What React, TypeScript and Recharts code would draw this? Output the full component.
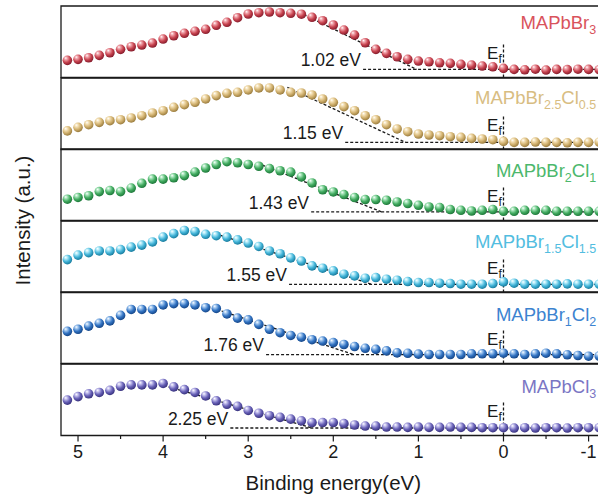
import React from "react";
import {
  ComposedChart,
  Line,
  XAxis,
  YAxis,
  ReferenceArea,
  ReferenceLine,
  ReferenceDot,
} from "recharts";

// binding energy grid (eV)
const energy = [
  5.125, 5, 4.875, 4.75, 4.625, 4.5, 4.375, 4.25, 4.125, 4, 3.875, 3.75, 3.625, 3.5, 3.375, 3.25, 3.125,
  3, 2.875, 2.75, 2.625, 2.5, 2.375, 2.25, 2.125, 2, 1.875, 1.75, 1.625, 1.5, 1.375, 1.25, 1.125, 1,
  0.875, 0.75, 0.625, 0.5, 0.375, 0.25, 0.125, 0, -0.125, -0.25, -0.375, -0.5, -0.625, -0.75, -0.875,
  -1, -1.125,
];

// intensity (a.u.), each panel scaled 0..100
const mapbbr3 = [
  24.0, 25.4, 27.6, 31.0, 34.6, 39.4, 43.0, 45.4, 48.2, 53.8, 58.4, 61.8, 64.6, 67.4, 73.0, 77.2, 83.6,
  88.8, 90.6, 91.6, 90.6, 89.8, 88.5, 84.2, 79.4, 73.4, 66.4, 59.4, 48.6, 39.4, 33.8, 29.0, 25.4, 23.0,
  22.0, 20.6, 19.7, 18.3, 17.4, 16.0, 15.0, 12.7, 11.3, 10.8, 11.6, 10.4, 11.3, 11.0, 11.6, 11.3, 11.0,
];
const mapbbr25cl05 = [
  26.0, 31.0, 34.7, 38.0, 40.3, 41.7, 44.1, 47.3, 51.1, 54.3, 59.0, 62.7, 66.0, 70.7, 75.4, 78.6, 80.0,
  83.3, 86.1, 86.1, 83.3, 80.0, 79.0, 76.3, 70.7, 66.0, 59.9, 54.3, 47.3, 41.7, 34.7, 28.7, 24.9, 21.7,
  20.3, 19.3, 17.9, 16.9, 15.5, 14.7, 13.7, 11.3, 9.9, 9.9, 10.4, 9.9, 9.9, 9.4, 9.9, 9.9, 10.4,
];
const mapbbr2cl1 = [
  29.8, 32.2, 34.6, 40.4, 41.9, 40.4, 45.3, 52.0, 57.9, 57.9, 59.8, 62.8, 67.6, 73.4, 78.3, 82.2, 80.7,
  78.3, 75.9, 72.5, 69.6, 67.6, 61.0, 52.5, 43.0, 39.9, 36.3, 32.1, 29.3, 29.3, 28.3, 25.9, 23.7, 21.3,
  18.9, 18.1, 15.3, 14.3, 13.3, 14.3, 15.3, 12.9, 12.9, 14.3, 14.3, 14.3, 12.9, 12.9, 12.9, 12.9, 12.9,
];
const mapbbr15cl15 = [
  46.0, 52.3, 55.7, 58.1, 58.1, 60.0, 63.4, 66.3, 70.7, 77.5, 82.3, 86.7, 85.2, 81.4, 79.4, 77.5, 73.6,
  69.2, 64.4, 58.1, 54.2, 48.4, 44.0, 37.3, 34.0, 30.3, 25.6, 23.2, 20.0, 20.9, 18.6, 17.2, 15.3, 13.9,
  13.9, 13.0, 12.5, 11.6, 11.6, 11.6, 12.5, 14.8, 13.0, 11.6, 11.6, 11.6, 11.6, 12.1, 11.6, 11.6, 11.6,
];
const mapbbr1cl2 = [
  45.0, 47.9, 52.3, 56.2, 59.6, 67.3, 75.6, 75.6, 75.6, 81.9, 83.8, 83.8, 81.9, 78.0, 77.0, 69.3, 63.4,
  61.0, 54.7, 47.9, 43.1, 39.2, 36.8, 33.3, 31.4, 29.2, 26.6, 23.7, 21.3, 19.7, 17.6, 14.9, 14.3, 13.1,
  12.6, 12.6, 12.6, 12.6, 13.6, 13.6, 13.6, 14.4, 13.6, 12.6, 13.6, 14.4, 13.6, 12.2, 11.2, 10.2, 10.5,
];
const mapbcl3 = [
  49.5, 54.4, 58.3, 60.2, 63.1, 68.9, 70.8, 70.8, 70.8, 72.8, 68.0, 64.1, 60.2, 55.3, 48.5, 43.7, 40.8,
  35.0, 31.1, 27.7, 25.3, 22.9, 20.5, 18.1, 18.1, 18.1, 16.6, 14.7, 13.2, 13.2, 11.8, 11.8, 11.3, 11.8,
  11.3, 11.3, 11.8, 11.3, 11.3, 10.9, 10.9, 10.9, 10.4, 10.9, 10.4, 10.9, 10.9, 10.4, 10.9, 10.9, 10.9,
];

const seriesList = [mapbbr3, mapbbr25cl05, mapbbr2cl1, mapbbr15cl15, mapbbr1cl2, mapbcl3];

// sample names: [text, subscript?]
const sampleNames: [string, boolean][][] = [
  [["MAPbBr", false], ["3", true]],
  [["MAPbBr", false], ["2.5", true], ["Cl", false], ["0.5", true]],
  [["MAPbBr", false], ["2", true], ["Cl", false], ["1", true]],
  [["MAPbBr", false], ["1.5", true], ["Cl", false], ["1.5", true]],
  [["MAPbBr", false], ["1", true], ["Cl", false], ["2", true]],
  [["MAPbCl", false], ["3", true]],
];

// VBM onset from linear extrapolation
const onsetEnergy = [1.02, 1.15, 1.43, 1.55, 1.76, 2.25];
const fitStartEnergy = [2.4, 2.54, 2.89, 3.38, 3.48, 4.05];
const fitStartIntensity = [91, 87, 80, 82, 80, 72];
const baselineStartEnergy = [1.65, 1.86, 2.26, 2.52, 2.79, 3.21];
const baselineIntensity = [11.3, 9.9, 12, 11.5, 12.5, 10.5];

const majorTicks = [5, 4, 3, 2, 1, 0, -1];
const allTicks = [5, 4.5, 4, 3.5, 3, 2.5, 2, 1.5, 1, 0.5, 0, -0.5, -1];

const palette = [
  { light: "#f2a9b0", base: "#c84450", dark: "#861c2c", text: "#d9535c" },
  { light: "#f6e4bc", base: "#d2b270", dark: "#9a7c3e", text: "#d8bd82" },
  { light: "#aee8c0", base: "#43ac61", dark: "#1d783a", text: "#4cb86c" },
  { light: "#b8edfa", base: "#43b4d8", dark: "#187c9e", text: "#52bde0" },
  { light: "#abcdf2", base: "#3374c3", dark: "#154688", text: "#3c83d0" },
  { light: "#c8c4ef", base: "#6861b7", dark: "#38327e", text: "#7b76c4" },
];
const nameY = [67.4, 63.7, 60.9, 62.0, 59.2, 59.8];

const FONT = "'Liberation Sans', Arial, Helvetica, sans-serif";
const PLOT_LEFT = 61;
const PLOT_W = 544.6;
const PANEL_H = 71.5;
const TOP = 6;
const CHART_W = 640;
const INK = "#1a1a1a";

const AxisTick = (props: any) => {
  const { x, y, payload, showLabel } = props;
  const major = majorTicks.includes(payload.value);
  const len = major ? 6 : 3.5;
  return (
    <g>
      <line x1={x} x2={x} y1={y} y2={y + len} stroke={INK} strokeWidth={1.2} />
      {showLabel && major && (
        <text x={x} y={y + 22} textAnchor="middle" fontSize={18} fontFamily={FONT} fill={INK}>
          {payload.value}
        </text>
      )}
    </g>
  );
};

const Panel = ({ k, last }: { k: number; last: boolean }) => {
  const series = seriesList[k];
  const data = energy.map((e, i) => ({ e, v: series[i] }));
  const col = palette[k];
  const gid = `ball${k}`;
  const height = last ? 2 + PANEL_H + 65 : 2 + PANEL_H + 8;

  const nameParts = sampleNames[k];
  let shift = 0;
  const nameSpans = nameParts.map(([t, sub], j) => {
    const target = sub ? 5 : 0;
    const dy = target - shift;
    shift = target;
    return (
      <tspan key={j} dy={dy} fontSize={sub ? 12.5 : 18.5}>
        {t}
      </tspan>
    );
  });

  return (
    <div style={{ position: "absolute", left: 0, top: TOP + PANEL_H * k - 2 }}>
      <ComposedChart
        width={CHART_W}
        height={height}
        data={data}
        margin={{ top: 2, right: CHART_W - PLOT_LEFT - PLOT_W, bottom: last ? 0 : 8, left: PLOT_LEFT }}
      >
        <defs>
          <radialGradient id={gid} cx="40%" cy="35%" r="65%" fx="32%" fy="26%">
            <stop offset="0%" stopColor="#ffffff" />
            <stop offset="22%" stopColor={col.light} />
            <stop offset="62%" stopColor={col.base} />
            <stop offset="100%" stopColor={col.dark} />
          </radialGradient>
        </defs>
        <XAxis
          type="number"
          dataKey="e"
          domain={[-1.2, 5.2]}
          reversed
          allowDataOverflow
          ticks={allTicks}
          interval={0}
          height={last ? 65 : 0}
          axisLine={false}
          tickLine={false}
          tickSize={0}
          tickMargin={0}
          tick={(p: any) => <AxisTick {...p} showLabel={last} />}
          label={
            last
              ? { value: "Binding energy(eV)", position: "insideBottom", offset: 11, fontSize: 20.5, fill: INK, fontFamily: FONT }
              : undefined
          }
        />
        <YAxis hide type="number" domain={[0, 100]} allowDataOverflow />
        <ReferenceArea
          x1={5.2}
          x2={-1.2}
          y1={0}
          y2={100}
          fill="none"
          stroke={INK}
          strokeWidth={1.3}
          ifOverflow="visible"
        />
        <Line
          dataKey="v"
          stroke="none"
          isAnimationActive={false}
          activeDot={false}
          dot={(p: any) => <circle key={`d${p.index}`} cx={p.cx} cy={p.cy} r={4.8} fill={`url(#${gid})`} />}
        />
        <ReferenceLine
          segment={[
            { x: baselineStartEnergy[k], y: baselineIntensity[k] },
            { x: -1.2, y: baselineIntensity[k] },
          ]}
          stroke={INK}
          strokeWidth={1.3}
          strokeDasharray="3 2"
          ifOverflow="visible"
        />
        <ReferenceLine
          segment={[
            { x: fitStartEnergy[k], y: fitStartIntensity[k] },
            { x: onsetEnergy[k], y: baselineIntensity[k] },
          ]}
          stroke={INK}
          strokeWidth={1.3}
          strokeDasharray="3 2"
          ifOverflow="visible"
        />
        <ReferenceLine
          segment={[
            { x: 0, y: 0 },
            { x: 0, y: 48 },
          ]}
          stroke={INK}
          strokeWidth={1.3}
          strokeDasharray="3 2"
          ifOverflow="visible"
        />
        <ReferenceDot
          x={baselineStartEnergy[k] + 0.025}
          y={baselineIntensity[k] + 4.5}
          ifOverflow="visible"
          shape={(p: any) => (
            <text x={p.cx} y={p.cy} textAnchor="end" fontSize={17.5} fontFamily={FONT} fill={INK}>
              {`${onsetEnergy[k].toFixed(2)} eV`}
            </text>
          )}
        />
        <ReferenceDot
          x={0.02}
          y={26.5}
          ifOverflow="visible"
          shape={(p: any) => (
            <text x={p.cx} y={p.cy} textAnchor="end" fontSize={17} fontFamily={FONT} fill={INK}>
              E
              <tspan fontSize={12} dy={4}>
                f
              </tspan>
            </text>
          )}
        />
        <ReferenceDot
          x={-1.09}
          y={nameY[k]}
          ifOverflow="visible"
          shape={(p: any) => (
            <text x={p.cx} y={p.cy} textAnchor="end" fontFamily={FONT} fill={col.text}>
              {nameSpans}
            </text>
          )}
        />
      </ComposedChart>
    </div>
  );
};

const App = () => (
  <div
    style={{
      position: "fixed",
      left: 0,
      top: 0,
      width: 598,
      height: 500,
      overflow: "hidden",
      background: "#fff",
      fontFamily: FONT,
    }}
  >
    {seriesList.map((_, k) => (
      <Panel key={k} k={k} last={k === seriesList.length - 1} />
    ))}
    <svg width={50} height={500} style={{ position: "absolute", left: 0, top: 0 }}>
      <text
        x={22}
        y={220.5}
        transform="rotate(-90, 22, 220.5)"
        textAnchor="middle"
        dominantBaseline="central"
        fontSize={20.5}
        fontFamily={FONT}
        fill={INK}
      >
        Intensity (a.u.)
      </text>
    </svg>
  </div>
);

export default App;
